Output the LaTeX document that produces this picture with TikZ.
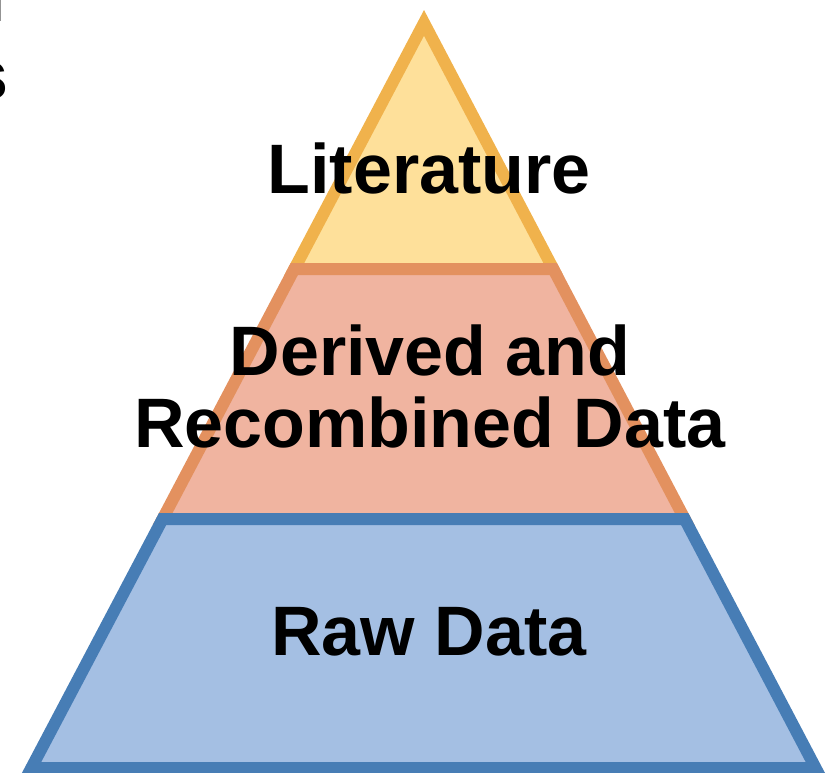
\documentclass[tikz,border=0pt]{standalone}
\usepackage{fontspec}
\setmainfont{Liberation Sans}
\usetikzlibrary{positioning}
\definecolor{litfill}{HTML}{FEE09A}
\definecolor{litline}{HTML}{F0B24C}
\definecolor{derfill}{HTML}{F0B4A0}
\definecolor{derline}{HTML}{E3915F}
\definecolor{rawfill}{HTML}{A4BFE3}
\definecolor{rawline}{HTML}{477DB5}
\tikzstyle{layer} = [line width=12pt, line join=miter]
\tikzstyle{label} = [font=\fontsize{70}{72}\selectfont\bfseries, align=center, text=black, inner sep=0pt]

\begin{document}
\begin{tikzpicture}[x=1pt, y=-1pt]

  \useasboundingbox (0,0) rectangle (832,773);
  \clip (0,0) rectangle (832,773);

  % Top layer
  \draw[layer, draw=litline, fill=litfill] (424,22.9) -- (553.3,269) -- (294.3,269) -- cycle;

  % Middle layer
  \draw[layer, draw=derline, fill=derfill] (294.3,269) -- (553.3,269) -- (684.7,519) -- (162.6,519) -- cycle;

  % Bottom layer
  \draw[layer, draw=rawline, fill=rawfill] (162.6,519) -- (684.7,519) -- (815.6,768) -- (31.3,768) -- cycle;

  % Labels
  \node (lit) at (429,193) [label, anchor=base] {Literature};
  \node (der) at (430,386) [label] {Derived and\\Recombined Data};
  \node (raw) at (429,655) [label, anchor=base] {Raw Data};

  % Cut-off text at the left edge
  \node (cutn) at (5,22) [label, anchor=base east] {n};
  \node (cuts) at (9,100) [label, anchor=base east] {s};

\end{tikzpicture}
\end{document}
